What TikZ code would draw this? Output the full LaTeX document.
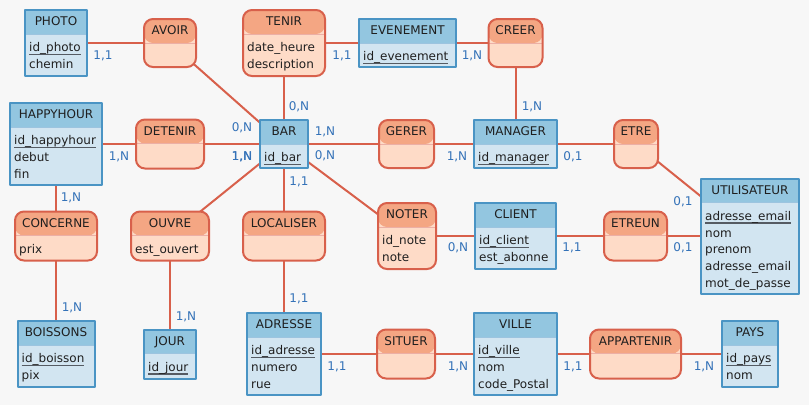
\documentclass[tikz,border=0pt]{standalone}
\usepackage{fontspec}
\setmainfont{DejaVu Sans}
\usetikzlibrary{backgrounds}
\definecolor{entB}{HTML}{4A94C4}
\definecolor{entH}{HTML}{93C6E0}
\definecolor{entF}{HTML}{D2E5F1}
\definecolor{assB}{HTML}{D8604B}
\definecolor{assH}{HTML}{F4A683}
\definecolor{assF}{HTML}{FEDBC7}
\definecolor{cardC}{HTML}{3472B8}
\definecolor{fondC}{HTML}{F7F7F7}
\definecolor{cleC}{HTML}{555B63}
\newcommand{\cle}[1]{\setbox0=\hbox{#1}\rlap{\color{cleC}\rule[-3.3pt]{\wd0}{1.4pt}}\box0}
% style, name, x, y, width, height, title, attributes
\newcommand{\boite}[8]{
  \node[#1, minimum width=#5, minimum height=#6] (#2) at (#3,#4) {};
  \node[txt, anchor=base] at ([yshift=-16.8]#2.north) {#7};
  \if\relax\detokenize{#8}\relax\else
  \foreach \a [count=\i] in {#8}
    \node[txt, anchor=base west] at ([xshift=5,yshift={-42.8-16.8*(\i-1)}]#2.north west) {\a};
  \fi
}
\begin{document}
\begin{tikzpicture}[x=1pt, y=-1pt, font=\fontsize{12}{14}\selectfont, line join=round,
  txt/.style={inner sep=0pt, text=black!88},
  ent/.style={draw=entB, fill=entF, line width=2pt, inner sep=0pt,
    path picture={\fill[entH] (path picture bounding box.north west) rectangle ([yshift=-24]path picture bounding box.north east);
      \draw[entB!55, line width=.9pt] ([yshift=-24]path picture bounding box.north west) -- ([yshift=-24]path picture bounding box.north east);}},
  ass/.style={draw=assB, fill=assF, line width=2pt, inner sep=0pt, rounded corners=9pt,
    path picture={\fill[assH] (path picture bounding box.north west) rectangle ([yshift=-24]path picture bounding box.north east);
      \draw[assB!50, line width=.9pt] ([yshift=-24]path picture bounding box.north west) -- ([yshift=-24]path picture bounding box.north east);}},
  lien/.style={assB, line width=2pt},
  card/.style={text=cardC, inner sep=0pt}]
\useasboundingbox (0,0) rectangle (809,405);

\boite{ent}{photo}{56}{43}{62}{66}{PHOTO}{\cle{id\_photo},chemin}
\boite{ass}{avoir}{170}{43}{52}{48}{AVOIR}{}
\boite{ass}{tenir}{284}{43}{82}{66}{TENIR}{date\_heure,description}
\boite{ent}{evenement}{407.5}{43}{97}{48}{EVENEMENT}{\cle{id\_evenement}}
\boite{ass}{creer}{515.5}{43}{54}{48}{CREER}{}
\boite{ent}{happyhour}{56}{144}{92}{82}{HAPPYHOUR}{\cle{id\_happyhour},debut,fin}
\boite{ass}{detenir}{170}{144}{68}{49}{DETENIR}{}
\boite{ent}{bar}{284}{144}{48}{48}{BAR}{\cle{id\_bar}}
\boite{ass}{gerer}{406.5}{144}{55}{48}{GERER}{}
\boite{ent}{manager}{515.5}{144}{83}{48}{MANAGER}{\cle{id\_manager}}
\boite{ass}{etre}{636}{144}{44}{48}{ETRE}{}
\boite{ent}{utilisateur}{750}{236}{98}{115}{UTILISATEUR}{\cle{adresse\_email},nom,prenom,adresse\_email,mot\_de\_passe}
\boite{ass}{concerne}{56}{236}{82}{49}{CONCERNE}{prix}
\boite{ass}{ouvre}{170}{236}{78}{49}{OUVRE}{est\_ouvert}
\boite{ass}{localiser}{284}{236}{82}{49}{LOCALISER}{}
\boite{ass}{noter}{407}{236}{58}{66}{NOTER}{id\_note,note}
\boite{ent}{client}{515.5}{236}{81}{66}{CLIENT}{\cle{id\_client},est\_abonne}
\boite{ass}{etreun}{635.5}{236}{63}{49}{ETREUN}{}
\boite{ent}{boissons}{56}{354}{77}{66}{BOISSONS}{\cle{id\_boisson},pix}
\boite{ent}{jour}{170}{354}{52}{49}{JOUR}{\cle{id\_jour}}
\boite{ent}{adresse}{284}{354}{74}{82}{ADRESSE}{\cle{id\_adresse},numero,rue}
\boite{ass}{situer}{406}{354}{58}{49}{SITUER}{}
\boite{ent}{ville}{515.5}{354}{83}{82}{VILLE}{\cle{id\_ville},nom,code\_Postal}
\boite{ass}{appartenir}{635.5}{354}{91}{49}{APPARTENIR}{}
\boite{ent}{pays}{750}{354}{56}{66}{PAYS}{\cle{id\_pays},nom}

\begin{scope}[on background layer]
  \fill[fondC] (0,0) rectangle (809,405);
  \foreach \a/\b in {photo/avoir,avoir/bar,tenir/bar,tenir/evenement,evenement/creer,creer/manager,
    happyhour/detenir,detenir/bar,bar/gerer,gerer/manager,manager/etre,etre/utilisateur,
    happyhour/concerne,concerne/boissons,ouvre/bar,ouvre/jour,localiser/bar,localiser/adresse,
    noter/bar,noter/client,client/etreun,etreun/utilisateur,adresse/situer,situer/ville,
    ville/appartenir,appartenir/pays}
    \draw[lien] (\a.center) -- (\b.center);
\end{scope}

% cardinalites
\foreach \p/\t in {{103,56}/{1,1}, {342,56}/{1,1}, {472,56}/{1,N}, {299,107}/{0,N}, {532,107}/{1,N},
  {242,128}/{0,N}, {325,132}/{1,N}, {119,157}/{1,N}, {325,156}/{0,N}, {457,157}/{1,N}, {573,157}/{0,1},
  {299,182}/{1,1}, {71,198}/{1,N}, {683,202}/{0,1}, {458,248}/{0,N}, {572,248}/{1,1}, {683,248}/{0,1},
  {299,299}/{1,1}, {72,308}/{1,N}, {186,317}/{1,N}, {337,367}/{1,1}, {458,367}/{1,N}, {573,367}/{1,1},
  {704,367}/{1,N}}
  \node[card] at (\p) {\t};
\node[card] at (242,157) {\rlap{1,N}\kern.4pt1,N};
\end{tikzpicture}
\end{document}
